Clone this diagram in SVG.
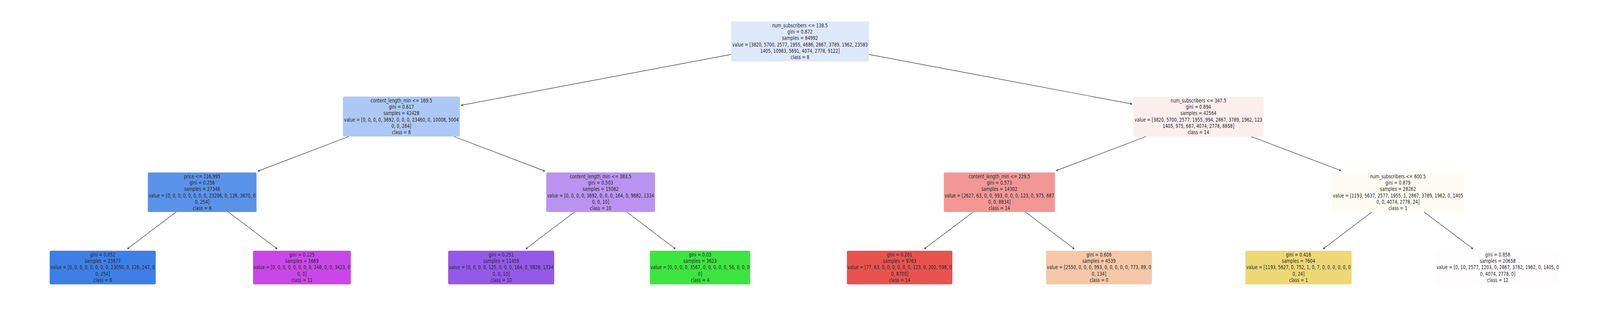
<svg xmlns="http://www.w3.org/2000/svg" width="5445" height="790" viewBox="0 0 5445 790" preserveAspectRatio="none">
<style>
svg{width:100vw;height:100vh;display:block}
text{font-family:"DejaVu Sans","Liberation Sans",sans-serif;font-size:13.9px;fill:#262626;text-anchor:middle}
.e line{stroke:#262626;stroke-width:1.2;fill:none;marker-end:url(#ah)}
</style>
<defs>
<marker id="ah" markerUnits="userSpaceOnUse" viewBox="-7 -4 8 8" markerWidth="8" markerHeight="8" refX="0" refY="0" orient="auto"><path d="M-5.6,-2.8 L0,0 L-5.6,2.8" fill="none" stroke="#262626" stroke-width="1.2"/></marker>
</defs>
<rect width="5445" height="790" fill="#ffffff"/>
<g id="connectors" class="e">
<line x1="2488" y1="139.2" x2="1570" y2="269.1"/>
<line x1="2957" y1="139.2" x2="3852" y2="265.9"/>
<line x1="1187.3" y1="349" x2="878" y2="437.3"/>
<line x1="1544.7" y1="349" x2="1854" y2="437.3"/>
<line x1="3899.9" y1="349" x2="3595" y2="436.1"/>
<line x1="4257.5" y1="349" x2="4562.8" y2="436"/>
<line x1="599.2" y1="542" x2="433.9" y2="636"/>
<line x1="777.1" y1="542" x2="942.8" y2="636"/>
<line x1="1955.2" y1="542" x2="1789.9" y2="636"/>
<line x1="2132.8" y1="542" x2="2298.1" y2="636"/>
<line x1="3311.9" y1="542" x2="3146.2" y2="636"/>
<line x1="3489.9" y1="542" x2="3655.5" y2="636"/>
<line x1="4668.7" y1="542" x2="4503.4" y2="636"/>
<line x1="4846.6" y1="542" x2="5012.3" y2="636"/>
</g>
<g id="node0">
<rect x="2488" y="55" width="469" height="102" rx="4" fill="#dde8fb"/>
<text x="2722.5" y="70">num_subscribers &lt;= 138.5</text>
<text x="2722.5" y="86.2">gini = 0.872</text>
<text x="2722.5" y="102.4">samples = 84992</text>
<text x="2722.5" y="118.6">value = [3820, 5700, 2577, 1955, 4686, 2867, 3789, 1962, 23583</text>
<text x="2722.5" y="134.8">1405, 10983, 5691, 4074, 2778, 9122]</text>
<text x="2722.5" y="151">class = 8</text>
</g>
<g id="node1">
<rect x="1167" y="247" width="398" height="102" rx="4" fill="#adc8f4"/>
<text x="1366" y="262">content_length_min &lt;= 169.5</text>
<text x="1366" y="278.2">gini = 0.617</text>
<text x="1366" y="294.4">samples = 42428</text>
<text x="1366" y="310.6">value = [0, 0, 0, 0, 3692, 0, 0, 0, 23460, 0, 10008, 5004</text>
<text x="1366" y="326.8">0, 0, 264]</text>
<text x="1366" y="343">class = 8</text>
</g>
<g id="node2">
<rect x="503" y="441" width="370" height="101" rx="4" fill="#5b92e9"/>
<text x="688" y="456">price &lt;= 116.995</text>
<text x="688" y="472.2">gini = 0.256</text>
<text x="688" y="488.4">samples = 27346</text>
<text x="688" y="504.6">value = [0, 0, 0, 0, 0, 0, 0, 0, 23296, 0, 126, 3670, 0</text>
<text x="688" y="520.8">0, 254]</text>
<text x="688" y="537">class = 8</text>
</g>
<g id="node3">
<rect x="169" y="641" width="361" height="86" rx="4" fill="#3e7fe6"/>
<text x="349.5" y="656">gini = 0.052</text>
<text x="349.5" y="672.2">samples = 23677</text>
<text x="349.5" y="688.4">value = [0, 0, 0, 0, 0, 0, 0, 0, 23050, 0, 126, 247, 0</text>
<text x="349.5" y="704.6">0, 254]</text>
<text x="349.5" y="720.8">class = 8</text>
</g>
<g id="node4">
<rect x="861" y="641" width="333" height="86" rx="4" fill="#ca47e7"/>
<text x="1027.5" y="656">gini = 0.125</text>
<text x="1027.5" y="672.2">samples = 3669</text>
<text x="1027.5" y="688.4">value = [0, 0, 0, 0, 0, 0, 0, 0, 246, 0, 0, 3423, 0</text>
<text x="1027.5" y="704.6">0, 0]</text>
<text x="1027.5" y="720.8">class = 11</text>
</g>
<g id="node5">
<rect x="1859" y="441" width="370" height="101" rx="4" fill="#bb93f1"/>
<text x="2044" y="456">content_length_min &lt;= 383.5</text>
<text x="2044" y="472.2">gini = 0.503</text>
<text x="2044" y="488.4">samples = 15082</text>
<text x="2044" y="504.6">value = [0, 0, 0, 0, 3692, 0, 0, 0, 164, 0, 9882, 1334</text>
<text x="2044" y="520.8">0, 0, 10]</text>
<text x="2044" y="537">class = 10</text>
</g>
<g id="node6">
<rect x="1525" y="641" width="361" height="86" rx="4" fill="#9559e9"/>
<text x="1705.5" y="656">gini = 0.251</text>
<text x="1705.5" y="672.2">samples = 11459</text>
<text x="1705.5" y="688.4">value = [0, 0, 0, 0, 125, 0, 0, 0, 164, 0, 9826, 1334</text>
<text x="1705.5" y="704.6">0, 0, 10]</text>
<text x="1705.5" y="720.8">class = 10</text>
</g>
<g id="node7">
<rect x="2212" y="641" width="341" height="86" rx="4" fill="#3ce53f"/>
<text x="2382.5" y="656">gini = 0.03</text>
<text x="2382.5" y="672.2">samples = 3623</text>
<text x="2382.5" y="688.4">value = [0, 0, 0, 0, 3567, 0, 0, 0, 0, 0, 56, 0, 0, 0</text>
<text x="2382.5" y="704.6">0]</text>
<text x="2382.5" y="720.8">class = 4</text>
</g>
<g id="node8">
<rect x="3857" y="247" width="443" height="102" rx="4" fill="#fdeeee"/>
<text x="4078.5" y="262">num_subscribers &lt;= 347.5</text>
<text x="4078.5" y="278.2">gini = 0.894</text>
<text x="4078.5" y="294.4">samples = 42564</text>
<text x="4078.5" y="310.6">value = [3820, 5700, 2577, 1955, 994, 2867, 3789, 1962, 123</text>
<text x="4078.5" y="326.8">1405, 975, 687, 4074, 2778, 8858]</text>
<text x="4078.5" y="343">class = 14</text>
</g>
<g id="node9">
<rect x="3212" y="441" width="378" height="101" rx="4" fill="#f19796"/>
<text x="3401" y="456">content_length_min &lt;= 229.5</text>
<text x="3401" y="472.2">gini = 0.573</text>
<text x="3401" y="488.4">samples = 14302</text>
<text x="3401" y="504.6">value = [2627, 63, 0, 0, 993, 0, 0, 0, 123, 0, 975, 687</text>
<text x="3401" y="520.8">0, 0, 8834]</text>
<text x="3401" y="537">class = 14</text>
</g>
<g id="node10">
<rect x="2882" y="641" width="359" height="86" rx="4" fill="#e85350"/>
<text x="3061.5" y="656">gini = 0.201</text>
<text x="3061.5" y="672.2">samples = 9763</text>
<text x="3061.5" y="688.4">value = [77, 63, 0, 0, 0, 0, 0, 0, 123, 0, 202, 598, 0</text>
<text x="3061.5" y="704.6">0, 8700]</text>
<text x="3061.5" y="720.8">class = 14</text>
</g>
<g id="node11">
<rect x="3560" y="641" width="360" height="86" rx="4" fill="#f4c8a8"/>
<text x="3740" y="656">gini = 0.606</text>
<text x="3740" y="672.2">samples = 4539</text>
<text x="3740" y="688.4">value = [2550, 0, 0, 0, 993, 0, 0, 0, 0, 0, 773, 89, 0</text>
<text x="3740" y="704.6">0, 134]</text>
<text x="3740" y="720.8">class = 0</text>
</g>
<g id="node12">
<rect x="4533" y="441" width="449" height="101" rx="4" fill="#fdfbf2"/>
<text x="4757.5" y="456">num_subscribers &lt;= 600.5</text>
<text x="4757.5" y="472.2">gini = 0.879</text>
<text x="4757.5" y="488.4">samples = 28262</text>
<text x="4757.5" y="504.6">value = [1193, 5637, 2577, 1955, 1, 2867, 3789, 1962, 0, 1405</text>
<text x="4757.5" y="520.8">0, 0, 4074, 2778, 24]</text>
<text x="4757.5" y="537">class = 1</text>
</g>
<g id="node13">
<rect x="4238" y="641" width="362" height="86" rx="4" fill="#edd876"/>
<text x="4419" y="656">gini = 0.418</text>
<text x="4419" y="672.2">samples = 7604</text>
<text x="4419" y="688.4">value = [1193, 5627, 0, 752, 1, 0, 7, 0, 0, 0, 0, 0, 0</text>
<text x="4419" y="704.6">0, 24]</text>
<text x="4419" y="720.8">class = 1</text>
</g>
<g id="node14">
<rect x="4888" y="641" width="418" height="86" rx="4" fill="#fffcfe"/>
<text x="5097" y="656">gini = 0.858</text>
<text x="5097" y="672.2">samples = 20658</text>
<text x="5097" y="688.4">value = [0, 10, 2577, 1203, 0, 2867, 3782, 1962, 0, 1405, 0</text>
<text x="5097" y="704.6">0, 4074, 2778, 0]</text>
<text x="5097" y="720.8">class = 12</text>
</g>
</svg>
